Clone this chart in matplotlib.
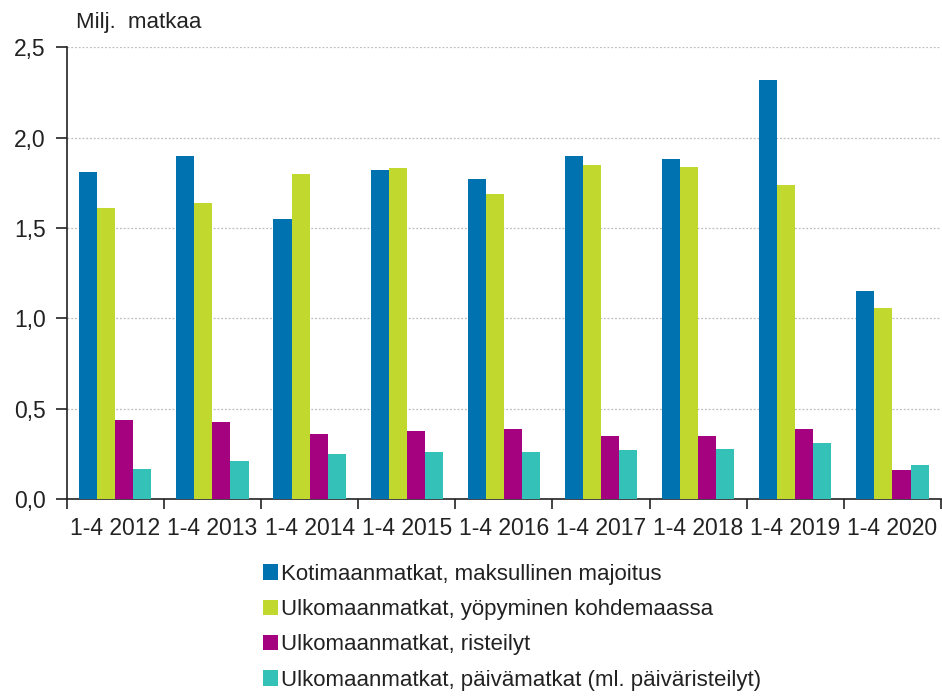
import matplotlib
matplotlib.use("Agg")
import matplotlib.pyplot as plt
from matplotlib.patches import Patch
import numpy as np

plt.rcParams['font.family'] = ['Liberation Sans', 'DejaVu Sans']

categories = ["1-4 2012", "1-4 2013", "1-4 2014", "1-4 2015", "1-4 2016",
              "1-4 2017", "1-4 2018", "1-4 2019", "1-4 2020"]
series_names = ["Kotimaanmatkat, maksullinen majoitus",
                "Ulkomaanmatkat, yöpyminen kohdemaassa",
                "Ulkomaanmatkat, risteilyt",
                "Ulkomaanmatkat, päivämatkat (ml. päiväristeilyt)"]
kotimaan = [1.81, 1.90, 1.55, 1.82, 1.77, 1.90, 1.88, 2.32, 1.15]
ulko_yopyminen = [1.61, 1.64, 1.80, 1.83, 1.69, 1.85, 1.84, 1.74, 1.06]
ulko_risteilyt = [0.44, 0.43, 0.36, 0.38, 0.39, 0.35, 0.35, 0.39, 0.16]
ulko_paiva = [0.17, 0.21, 0.25, 0.26, 0.26, 0.27, 0.28, 0.31, 0.19]
yticks = [0.0, 0.5, 1.0, 1.5, 2.0, 2.5]
ytick_labels = ["0,0", "0,5", "1,0", "1,5", "2,0", "2,5"]

colors = ["#0072AF", "#C1D82F", "#A5027F", "#34C1B8"]
series = [kotimaan, ulko_yopyminen, ulko_risteilyt, ulko_paiva]

fig = plt.figure(figsize=(9.42, 6.98), dpi=100)
ax = fig.add_axes([0.0708, 0.2847, 0.9282, 0.6475])

x = np.arange(len(categories))
w = 0.186
for k, (vals, c) in enumerate(zip(series, colors)):
    ax.bar(x + (k - 1.5) * w, vals, width=w, color=c, edgecolor='none', zorder=3)

ax.set_xlim(-0.5, len(categories) - 0.5)
ax.set_ylim(0, 2.5)
ax.set_yticks(yticks)
ax.set_yticklabels(ytick_labels)
ax.yaxis.grid(True, color='#bdbdbd', linestyle=(0, (1.5, 1.5)), linewidth=0.9, zorder=0)
ax.set_axisbelow(True)

ax.set_xticks(np.arange(len(categories) + 1) - 0.5)
ax.set_xticklabels([])
ax.set_xticks(x, minor=True)
ax.set_xticklabels(categories, minor=True)
ax.tick_params(axis='x', which='major', length=7, width=1.2, color='#222222')
ax.tick_params(axis='x', which='minor', length=0, pad=13, labelsize=16.5, labelcolor='#222222')
ax.tick_params(axis='y', length=8, width=1.2, color='#222222', labelsize=16.5,
               labelcolor='#222222', pad=7)

for s in ['top', 'right']:
    ax.spines[s].set_visible(False)
for s in ['left', 'bottom']:
    ax.spines[s].set_color('#222222')
    ax.spines[s].set_linewidth(1.2)

fig.text(0.0805, 0.968, "Milj.  matkaa", fontsize=16, color='#222222', va='center', ha='left')

handles = [Patch(facecolor=c, edgecolor='none') for c in colors]
leg = fig.legend(handles, series_names, loc='upper left', bbox_to_anchor=(0.279, 0.192),
                 frameon=False, fontsize=16, handlelength=0.7, handleheight=0.7,
                 handletextpad=0.1, labelspacing=0.64, borderaxespad=0, borderpad=0)
for t in leg.get_texts():
    t.set_color('#222222')

fig.savefig("out.png", dpi=100)
